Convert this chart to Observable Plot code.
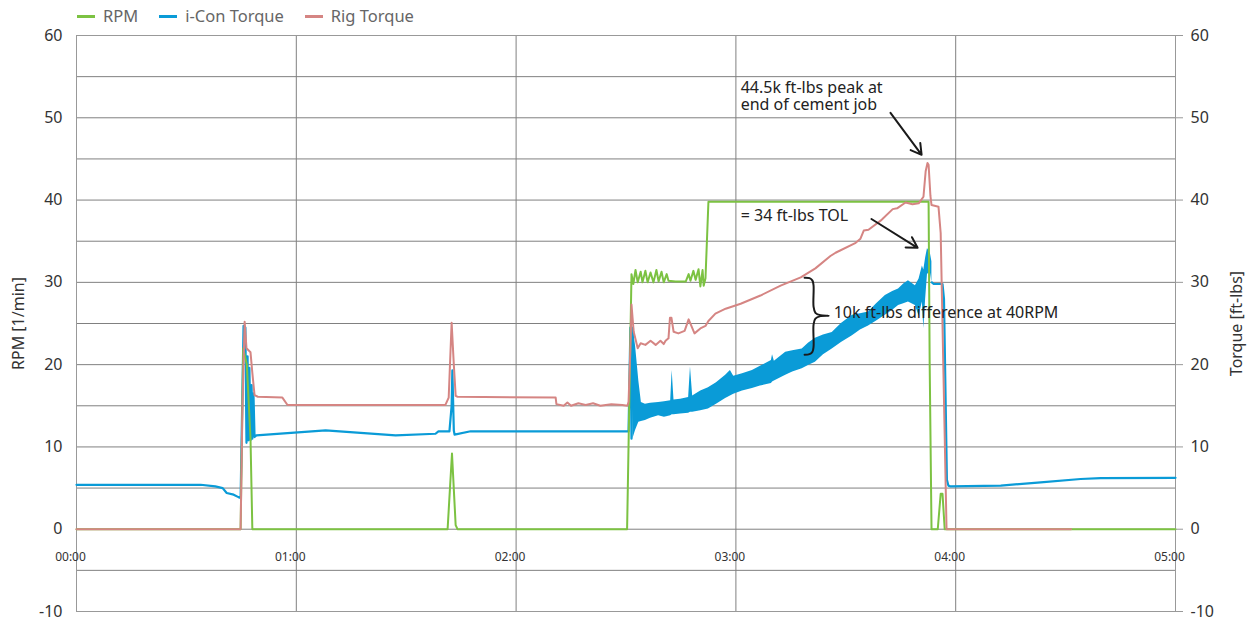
<!DOCTYPE html>
<html><head><meta charset="utf-8">
<script src="https://cdn.jsdelivr.net/npm/d3@7"></script>
<script src="https://cdn.jsdelivr.net/npm/@observablehq/plot@0.6"></script>
<style>
body{margin:0;background:#fff;font-family:"Noto Sans",sans-serif;}
#wrap{position:relative;width:1253px;height:622px;}
#legend{position:absolute;left:77px;top:5px;display:flex;gap:21px;font-size:16.5px;color:#666;line-height:22px;}
.item{display:flex;align-items:center;gap:8px}
.sw{width:18px;height:3px;display:inline-block}
</style></head><body><div id="wrap"><div id="legend"></div><div id="chart"></div></div>
<script>
// time in minutes since 00:00
const rpmT = [0,44.8,45.5,46.5,47.5,48.0,101.3,102.5,103.5,104,150.3,151.5,152.0,152.6,153.2,154.0,154.5,155.3,155.9,156.7,157.5,158.3,158.9,159.7,160.3,161.1,161.6,163.5,166.3,167.1,167.6,168.4,169.0,169.8,170.3,170.9,171.2,171.7,172.5,232.6,232.9,233.4,235.1,235.9,236.4,237.0,300];
const rpmV = [0,0,22,20,11,0,0,9.2,0.5,0,0,31,29.8,31.5,30,31.3,30,31.4,30,31.2,30,31.5,30.1,31.3,30,31,30.2,30.1,30.1,31,30.2,31.4,30.3,31.6,29.5,31.5,29.6,30.5,39.8,39.8,20,0,0,4.3,4.3,0,0];

const iconT = [0,33.9,37.9,39.9,41,42.9,44.2,44.8,45.6,46.1,46.4,46.7,46.9,47.2,47.5,47.8,48.0,48.3,48.6,49.1,68.0,87.1,98.0,98.8,101.8,102.4,102.6,103.0,103.2,107.6,150.7,151.2,151.5,151.9,192,233.5,234.0,236.4,236.8,237.6,238.0,238.6,252.3,263.2,274.1,279.6,300];
const iconV = [5.4,5.4,5.2,5.0,4.4,4.2,3.9,3.8,24.7,24.5,10.5,21,10.8,19.6,10.8,17.5,11,16.5,11.2,11.4,12.0,11.4,11.6,11.9,11.9,15,19.3,12,11.5,11.9,11.9,24.5,11,24.5,null,30.0,29.8,29.8,28,6,5.3,5.2,5.3,5.7,6.1,6.2,6.25];

// noisy i-Con band: envelope (low / high)
const bandT  = [151.9,152.6,153.5,154.2,155.3,156.7,158.9,160.5,162.2,162.6,163.1,164.9,167.1,167.6,168.2,170.4,172.5,174.7,177.2,178.5,179.4,181.8,184.5,186.7,189.7,190.0,190.5,193.6,195.5,198.1,199.8,201.7,203.9,206.3,208.8,211.8,214.0,216.2,218.4,220.8,222.8,224.4,225.8,227.1,229.0,230.0,230.9,231.3,231.8,232.3,233.1,233.5];
const bandLo = [11.0,12.0,13.0,13.1,13.2,13.5,13.8,13.6,13.8,13.9,13.9,14.0,14.1,14.2,14.2,14.4,14.6,15.2,15.9,16.2,16.4,16.8,17.1,17.4,17.7,17.9,18.0,18.7,19.1,19.5,19.9,20.3,21.2,21.9,22.7,23.5,24.2,24.7,25.3,26.0,26.6,27.2,27.4,27.6,27.2,25.9,27.6,24.4,28.0,31.0,31.2,30.0];
const bandHi = [24.5,22.3,18.0,15.4,15.2,15.3,15.4,15.5,15.6,19.3,15.7,15.8,16.0,19.7,16.2,16.8,17.2,17.8,18.7,19.3,18.6,18.9,19.3,19.8,20.5,21.2,20.4,21.5,21.7,21.9,22.6,23.2,23.6,23.9,25.0,26.0,26.2,26.4,27.4,28.4,28.9,29.2,29.8,30.2,29.6,30.4,32.0,31.5,33.0,34.1,33.5,32.5];

const rigT = [0,44.8,45.3,45.9,46.4,47.5,48.0,48.6,49.5,56.2,57.6,100.7,101.6,102.4,103.0,103.5,104,130.8,131.0,133,134,135,137,139,141,143,146,149,150.4,150.7,151.2,151.5,152.1,153.2,154.0,155.3,156.7,158.1,159.4,160.3,160.8,161.6,162.0,162.4,163.0,164.3,166.0,167.1,168.7,170.3,171.7,172.5,174.4,177.2,181.3,186.7,192.2,197.7,201.7,205.8,207.2,212.7,214.0,214.9,216.2,219.5,220.0,222.8,224,226.3,228.2,229.9,230.4,231.2,231.8,232.3,232.6,233.1,233.4,235.3,235.9,237.5,271.5];
const rigV = [0,0,15,25.2,22,21.5,19,16.3,16.1,16.0,15.1,15.1,16,25.1,20,16.2,16.1,16.0,15.2,15.0,15.4,15.0,15.3,15.1,15.3,15.0,15.2,15.1,15.0,15.5,22,27.3,24.0,22.0,22.6,22.4,22.9,22.4,22.9,22.5,22.9,23.2,25.7,25.7,24.0,23.8,24.1,25.5,23.8,24.4,24.7,25.3,26.2,26.8,27.4,28.4,29.6,30.6,31.7,33.2,33.6,34.8,35.3,36.3,36.4,37.5,37.7,38.9,39.0,39.7,39.5,39.6,39.9,40.4,43.5,44.5,44.3,40.5,39.4,39.2,36,0,0];

const yTicks = [-10,0,10,20,30,40,50,60];
const yGrid = [-10,-5,0,5,10,15,20,25,30,35,40,45,50,55,60];
const xTicks = [0,60,120,180,240,300];

const peakNoteT = [181.3], peakNoteV = [54.43], peakNoteText = ["44.5k ft-lbs peak at\nend of cement job"];
const noteT = [181.3,206.7];
const noteV = [38.1,26.3];
const noteText = ["= 34 ft-lbs TOL","10k ft-lbs difference at 40RPM"];

const arrowT1 = [222.2,217.0], arrowV1 = [50.6,37.7], arrowT2 = [230.7,229.6], arrowV2 = [45.5,34.2];

const braceT = [198.75,200.1,200.9,201.2,201.2,201.7,203.1,205.3,203.1,201.7,201.2,201.2,200.9,200.1,198.75];
const braceV = [30.57,30.51,30.21,29.6,27.05,26.3,26.0,25.95,25.9,25.6,24.86,22.19,21.58,21.28,21.2];

const seriesNames = ["RPM","i-Con Torque","Rig Torque"];
const seriesColors = ["#7cc242","#0a9bd7","#d58583"];

const zip = (T,V) => T.map((t,i)=>({t, v:V[i]}));
const rpm = zip(rpmT,rpmV), icon = zip(iconT,iconV), rig = zip(rigT,rigV);
const band = bandT.map((t,i)=>({t, lo:bandLo[i], hi:bandHi[i]}));
const notes = noteT.map((t,i)=>({t, v:noteV[i], text:noteText[i]}));
const peakNote = peakNoteT.map((t,i)=>({t, v:peakNoteV[i], text:peakNoteText[i]}));
const arrows = arrowT1.map((t,i)=>({x1:t, y1:arrowV1[i], x2:arrowT2[i], y2:arrowV2[i]}));
const brace = zip(braceT,braceV);
const fmt = m => String(Math.floor(m/60)).padStart(2,"0")+":"+String(m%60).padStart(2,"0");

const [cR,cI,cG] = seriesColors;
const chart = Plot.plot({
  width:1253, height:622, marginTop:35, marginBottom:11, marginLeft:76, marginRight:78,
  style:{fontFamily:'"Noto Sans", sans-serif', fontSize:"16px", color:"#333", background:"transparent"},
  x:{domain:[0,300], axis:null},
  y:{domain:[-10,60]},
  marks:[
    Plot.ruleY(yGrid,{stroke:"#808080",strokeWidth:1}),
    Plot.ruleX(xTicks,{stroke:"#808080",strokeWidth:1}),
    Plot.frame({stroke:"#999"}),
    Plot.axisY(yTicks,{anchor:"left",tickSize:0,tickPadding:14,tickFormat:d=>String(d),label:"RPM [1/min]",labelAnchor:"center",labelArrow:"none",labelOffset:64}),
    Plot.axisY(yTicks,{anchor:"right",tickSize:7,tickPadding:8,tickFormat:d=>String(d),stroke:"#999",label:"Torque [ft-lbs]",labelAnchor:"center",labelArrow:"none",labelOffset:66}),
    Plot.areaY(band,{x:"t",y1:"lo",y2:"hi",fill:cI}),
    Plot.line(icon,{x:"t",y:"v",stroke:cI,strokeWidth:2.2}),
    Plot.line(rpm,{x:"t",y:"v",stroke:cR,strokeWidth:2}),
    Plot.line(rig,{x:"t",y:"v",stroke:cG,strokeWidth:2}),
    Plot.text(xTicks,{x:d=>d,y:()=>-3.4,dx:-6,text:fmt,fontSize:12,fill:"#333"}),
    Plot.text(peakNote,{x:"t",y:"v",text:"text",textAnchor:"start",lineAnchor:"top",lineHeight:1.06,fontSize:16,fill:"#222"}),
    Plot.text(notes,{x:"t",y:"v",text:"text",textAnchor:"start",fontSize:16,fill:"#222"}),
    Plot.arrow(arrows,{x1:"x1",y1:"y1",x2:"x2",y2:"y2",stroke:"#1a1a1a",strokeWidth:2,headLength:9,bend:0}),
    Plot.line(brace,{x:"t",y:"v",stroke:"#1a1a1a",strokeWidth:2,curve:"catmull-rom"})
  ]
});
document.getElementById("chart").appendChild(chart);
const lg = document.getElementById("legend");
seriesNames.forEach((n,i)=>{
  const it=document.createElement("div"); it.className="item";
  it.innerHTML=`<span class="sw" style="background:${seriesColors[i]}"></span><span>${n}</span>`;
  lg.appendChild(it);
});
</script></body></html>
